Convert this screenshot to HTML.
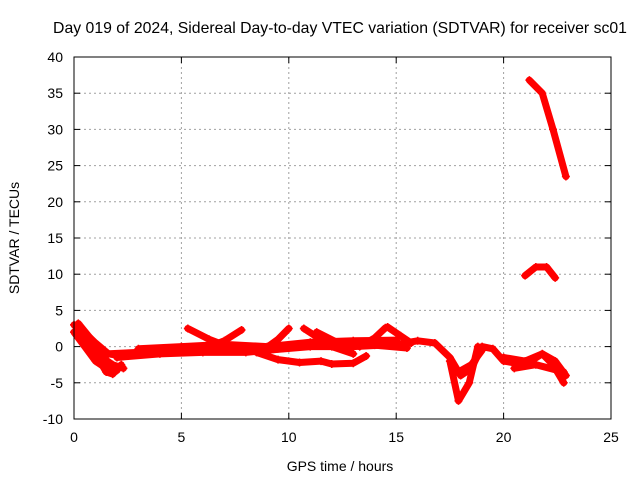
<!DOCTYPE html>
<html><head><meta charset="utf-8"><style>
body{margin:0;background:#fff}
svg{display:block;font-family:"Liberation Sans",sans-serif;font-size:14px}
</style></head><body>
<svg id="c" width="640" height="480">
<text x="340" y="33" text-anchor="middle" style="font-size:15.8px">Day 019 of 2024, Sidereal Day-to-day VTEC variation (SDTVAR) for receiver sc01</text>
<text x="340" y="471" text-anchor="middle">GPS time / hours</text>
<text transform="translate(19,238) rotate(-90)" text-anchor="middle">SDTVAR / TECUs</text>
<g id="grid"></g><g id="marks"></g><g id="axes"></g>
</svg>
<script>
const xTicks=[0,5,10,15,20,25];
const yTicks=[-10,-5,0,5,10,15,20,25,30,35,40];
const trackA=[[0,3],[0.5,1.5],[1,-1],[1.5,-3.5],[1.8,-3.8],[2.2,-2.5]];
const trackB=[[0.2,3.2],[0.8,1],[1.3,-1.5],[1.8,-2.5],[2.3,-3]];
const trackC=[[0,2],[0.5,0],[1,-2],[1.5,-3],[2,-3.3]];
const trackD=[[0.3,2.5],[1,0.5],[1.6,-1],[2,-1.2]];
const band1=[[1.5,-1],[3,-0.8],[5,-0.5],[7,-0.3],[9,-0.5],[11,0],[13,0],[15,0.3],[16,0.8],[16.8,0.5],[17.5,-1.5],[18,-4],[18.5,-3],[19,0],[19.5,-0.3],[20,-2],[21,-2.5],[21.8,-1],[22.4,-2],[22.9,-4]];
const band2=[[2,-1.5],[4,-1],[6,-0.8],[8,-0.8],[10,-0.2],[12,0.3],[14,0.2],[15.5,-0.2]];
const band3=[[3,-0.3],[5,0],[7,0.3],[9,0],[11,0.6],[13,0.8],[15,0.9]];
const trackE=[[5.3,2.5],[6.3,1],[7,0.2],[8,-0.2]];
const trackF=[[6.3,0],[7,0.8],[7.8,2.3]];
const trackG=[[8.8,-0.5],[9.5,1],[10,2.5]];
const trackH=[[8.5,-0.8],[9.5,-1.8],[10.5,-2.2],[11.5,-2],[12,-2.4],[13,-2.3],[13.6,-1.3]];
const trackI=[[10.7,2.5],[12,0],[13,-1]];
const trackJ=[[11.3,2],[12.5,0.2],[13.5,0.2]];
const trackK=[[13.3,0],[14,1.2],[14.5,2.6]];
const trackL=[[14.6,2.7],[15.2,1.5],[15.7,0.5]];
const dip=[[17.5,-2],[17.9,-7.5],[18.4,-5],[18.8,0]];
const dip2=[[17.9,-3.5],[18.5,-2.5],[19,-0.5]];
const tail1=[[20,-1.5],[21,-2],[21.8,-1],[22.3,-2.5],[22.8,-5]];
const tail2=[[20.5,-3],[21.5,-2.5],[22.8,-3.5]];
const topTrack=[[21.2,36.8],[21.8,35],[22.3,30],[22.9,23.5]];
const midTrack=[[21,9.8],[21.5,11],[22,11],[22.4,9.5]];
const series=[trackA,trackB,trackC,trackD,band1,band2,band3,trackE,trackF,trackG,trackH,trackI,trackJ,trackK,trackL,dip,dip2,tail1,tail2,topTrack,midTrack];

const L=74,R=611,T=57,B=419;
const sx=h=>L+(h-0)/(25-0)*(R-L);
const sy=v=>B-(v+10)/(40+10)*(B-T);
const NS='http://www.w3.org/2000/svg';
function mk(t,p,a){const e=document.createElementNS(NS,t);for(const k in a)e.setAttribute(k,a[k]);p.appendChild(e);return e;}
const g=document.getElementById('grid'),m=document.getElementById('marks'),ax=document.getElementById('axes');
xTicks.forEach(t=>{const x=sx(t);
 if(t>0&&t<25){const l=mk('line',g,{x1:x,x2:x,y1:T,y2:B,stroke:'#a0a0a0','stroke-dasharray':'2,3'});}
 mk('line',ax,{x1:x,x2:x,y1:B,y2:B-6,stroke:'#000'});mk('line',ax,{x1:x,x2:x,y1:T,y2:T+6,stroke:'#000'});
 const tx=mk('text',ax,{x:x,y:B+23,'text-anchor':'middle'});tx.textContent=t;
 });
yTicks.forEach(t=>{const y=sy(t);
 if(t>-10&&t<40){const l=mk('line',g,{x1:L,x2:R,y1:y,y2:y,stroke:'#a0a0a0','stroke-dasharray':'2,3'});}
 mk('line',ax,{x1:L,x2:L+6,y1:y,y2:y,stroke:'#000'});mk('line',ax,{x1:R,x2:R-6,y1:y,y2:y,stroke:'#000'});
 const tx=mk('text',ax,{x:L-11,y:y+5,'text-anchor':'end'});tx.textContent=t;
 });
const fr=mk('rect',ax,{x:L,y:T,width:R-L,height:B-T,fill:'none',stroke:'#000'});

series.forEach(s=>{
 const pl=mk('polyline',m,{points:s.map(p=>sx(p[0])+','+sy(p[1])).join(' '),fill:'none',stroke:'#f00','stroke-width':7,'stroke-linejoin':'round','stroke-linecap':'round'});
 
 s.forEach(p=>{const x=sx(p[0]),y=sy(p[1]);
  const pt=mk('path',m,{d:`M${x-4},${y}H${x+4}M${x},${y-4}V${y+4}`,stroke:'#f00','stroke-width':1.5});
  });
});
</script>
</body></html>
